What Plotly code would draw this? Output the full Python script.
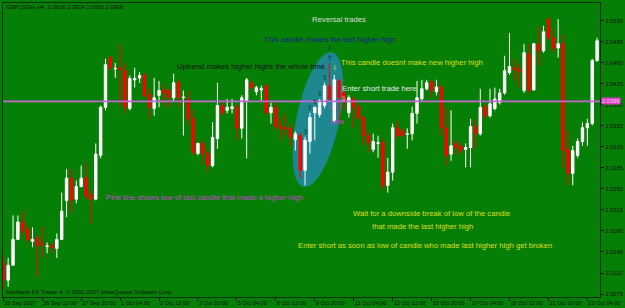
import math
import plotly.graph_objects as go

# ---------------- data ----------------
tick_bars = [0, 8, 16, 24, 32, 40, 48, 56, 64, 72, 80, 88, 96, 104, 112, 120]
tick_labels = ["25 Sep 2007", "26 Sep 12:00", "27 Sep 20:00", "1 Oct 04:00", "2 Oct 12:00",
               "3 Oct 20:00", "5 Oct 04:00", "8 Oct 12:00", "9 Oct 20:00", "11 Oct 04:00",
               "12 Oct 12:00", "15 Oct 20:00", "17 Oct 04:00", "18 Oct 12:00", "21 Oct 20:00",
               "23 Oct 04:00"]

price_ticks = [2.0075, 2.0110, 2.0145, 2.0180, 2.0215, 2.0250, 2.0285, 2.0320,
               2.0355, 2.0390, 2.0425, 2.0460, 2.0495, 2.0530]

opens = [
    2.0127, 2.0098, 2.0123, 2.0166, 2.0195, 2.0183, 2.0163, 2.0168, 2.0159, 2.0154,
    2.0156, 2.0151, 2.0166, 2.0231, 2.0268, 2.0233, 2.0254, 2.0269, 2.0241, 2.0233,
    2.0306, 2.0386, 2.0469, 2.0450, 2.0452, 2.0447, 2.0384, 2.0432, 2.0435, 2.0440,
    2.0407, 2.0384, 2.0406, 2.0415, 2.0414, 2.0402, 2.0427, 2.0402, 2.0400, 2.0367,
    2.0309, 2.0326, 2.0309, 2.0289, 2.0334, 2.0389, 2.0381, 2.0384, 2.0386, 2.0351,
    2.0397, 2.0427, 2.0412, 2.0415, 2.0422, 2.0377, 2.0386, 2.0354, 2.0352, 2.0351,
    2.0332, 2.0339, 2.0281, 2.0329, 2.0377, 2.0374, 2.0389, 2.0422, 2.0364, 2.0430,
    2.0410, 2.0377, 2.0400, 2.0386, 2.0369, 2.0339, 2.0316, 2.0326, 2.0327, 2.0256,
    2.0278, 2.0352, 2.0347, 2.0341, 2.0342, 2.0376, 2.0400, 2.0417, 2.0429, 2.0412,
    2.0420, 2.0352, 2.0308, 2.0326, 2.0321, 2.0316, 2.0319, 2.0354, 2.0342, 2.0387,
    2.0372, 2.0384, 2.0394, 2.0410, 2.0444, 2.0452, 2.0450, 2.0414, 2.0475, 2.0415,
    2.0492, 2.0480, 2.0533, 2.0502, 2.0485, 2.0492, 2.0316, 2.0276, 2.0306, 2.0329,
    2.0352, 2.0359, 2.0464]

highs = [
    2.0140, 2.0135, 2.0206, 2.0206, 2.0214, 2.0190, 2.0186, 2.0173, 2.0188, 2.0161,
    2.0161, 2.0176, 2.0244, 2.0283, 2.0283, 2.0264, 2.0289, 2.0294, 2.0248, 2.0326,
    2.0389, 2.0467, 2.0472, 2.0460, 2.0492, 2.0460, 2.0439, 2.0452, 2.0445, 2.0444,
    2.0419, 2.0435, 2.0430, 2.0425, 2.0417, 2.0442, 2.0432, 2.0414, 2.0414, 2.0381,
    2.0327, 2.0331, 2.0314, 2.0361, 2.0427, 2.0397, 2.0400, 2.0400, 2.0392, 2.0406,
    2.0435, 2.0430, 2.0422, 2.0422, 2.0425, 2.0394, 2.0394, 2.0369, 2.0376, 2.0359,
    2.0346, 2.0344, 2.0337, 2.0377, 2.0387, 2.0400, 2.0427, 2.0460, 2.0440, 2.0434,
    2.0417, 2.0406, 2.0404, 2.0391, 2.0372, 2.0344, 2.0342, 2.0339, 2.0334, 2.0302,
    2.0359, 2.0364, 2.0351, 2.0351, 2.0387, 2.0430, 2.0432, 2.0432, 2.0430, 2.0432,
    2.0424, 2.0386, 2.0381, 2.0331, 2.0327, 2.0326, 2.0367, 2.0366, 2.0417, 2.0391,
    2.0417, 2.0419, 2.0417, 2.0472, 2.0510, 2.0467, 2.0459, 2.0492, 2.0492, 2.0493,
    2.0522, 2.0522, 2.0535, 2.0517, 2.0533, 2.0508, 2.0347, 2.0322, 2.0334, 2.0361,
    2.0367, 2.0467, 2.0502]

lows = [
    2.0082, 2.0087, 2.0122, 2.0165, 2.0173, 2.0160, 2.0153, 2.0103, 2.0135, 2.0143,
    2.0143, 2.0135, 2.0165, 2.0203, 2.0211, 2.0226, 2.0253, 2.0231, 2.0193, 2.0231,
    2.0301, 2.0381, 2.0447, 2.0435, 2.0389, 2.0376, 2.0381, 2.0419, 2.0427, 2.0402,
    2.0367, 2.0372, 2.0386, 2.0389, 2.0386, 2.0397, 2.0386, 2.0339, 2.0356, 2.0306,
    2.0306, 2.0292, 2.0278, 2.0286, 2.0317, 2.0372, 2.0376, 2.0376, 2.0331, 2.0334,
    2.0301, 2.0415, 2.0406, 2.0397, 2.0374, 2.0359, 2.0347, 2.0331, 2.0339, 2.0322,
    2.0314, 2.0268, 2.0256, 2.0309, 2.0331, 2.0369, 2.0384, 2.0396, 2.0361, 2.0361,
    2.0381, 2.0369, 2.0352, 2.0364, 2.0322, 2.0311, 2.0311, 2.0302, 2.0248, 2.0244,
    2.0264, 2.0334, 2.0336, 2.0317, 2.0331, 2.0359, 2.0397, 2.0414, 2.0402, 2.0406,
    2.0339, 2.0289, 2.0297, 2.0306, 2.0309, 2.0286, 2.0286, 2.0317, 2.0339, 2.0367,
    2.0369, 2.0381, 2.0391, 2.0407, 2.0440, 2.0430, 2.0419, 2.0410, 2.0409, 2.0414,
    2.0455, 2.0477, 2.0497, 2.0477, 2.0469, 2.0286, 2.0256, 2.0256, 2.0302, 2.0322,
    2.0322, 2.0356, 2.0462]

closes = [
    2.0098, 2.0123, 2.0166, 2.0195, 2.0180, 2.0166, 2.0166, 2.0156, 2.0157, 2.0155,
    2.0153, 2.0166, 2.0213, 2.0268, 2.0231, 2.0254, 2.0268, 2.0239, 2.0233, 2.0308,
    2.0386, 2.0457, 2.0452, 2.0451, 2.0449, 2.0386, 2.0434, 2.0434, 2.0439, 2.0406,
    2.0386, 2.0402, 2.0414, 2.0410, 2.0402, 2.0427, 2.0402, 2.0403, 2.0367, 2.0311,
    2.0326, 2.0309, 2.0289, 2.0336, 2.0389, 2.0377, 2.0386, 2.0387, 2.0351, 2.0402,
    2.0432, 2.0419, 2.0419, 2.0417, 2.0377, 2.0386, 2.0354, 2.0351, 2.0350, 2.0336,
    2.0342, 2.0281, 2.0331, 2.0369, 2.0386, 2.0397, 2.0422, 2.0400, 2.0432, 2.0402,
    2.0395, 2.0402, 2.0386, 2.0369, 2.0339, 2.0327, 2.0329, 2.0327, 2.0256, 2.0278,
    2.0352, 2.0339, 2.0339, 2.0342, 2.0376, 2.0402, 2.0417, 2.0427, 2.0414, 2.0420,
    2.0352, 2.0306, 2.0322, 2.0319, 2.0314, 2.0319, 2.0354, 2.0342, 2.0386, 2.0372,
    2.0392, 2.0400, 2.0410, 2.0447, 2.0454, 2.0449, 2.0445, 2.0477, 2.0415, 2.0492,
    2.0480, 2.0512, 2.0502, 2.0484, 2.0492, 2.0314, 2.0276, 2.0314, 2.0329, 2.0352,
    2.0359, 2.0464, 2.0497]

pink_level = 2.0396
last_high_bar = 67
uptrend_bars = [62, 63, 64, 65, 66, 67]

# ---------------- styling ----------------
BG = "#067f06"
FONT = "Liberation Sans, Arial, sans-serif"
ARROWFONT = "DejaVu Sans, sans-serif"

W, H = 625, 308
L, R, T, B = 2, 22, 2, 11

fig = go.Figure()
fig.add_trace(go.Candlestick(
    x=list(range(len(opens))), open=opens, high=highs, low=lows, close=closes,
    increasing=dict(line=dict(color="#ffffff", width=1), fillcolor="#ffffff"),
    decreasing=dict(line=dict(color="#ff0000", width=1), fillcolor="#ff0000"),
    whiskerwidth=0, hoverinfo="skip", showlegend=False,
))

# ellipse geometry (pixel-like units mapped into data space)
x_px0, px_per_bar = 2.3, 4.9
y_top_px, y_bot_px = T, H - B
y_lo, y_hi = 2.0070, 2.05599


def to_data(px, py):
    x = (px - x_px0) / px_per_bar
    y = y_hi - (py - y_top_px) * (y_hi - y_lo) / (y_bot_px - y_top_px)
    return x, y


cx, cy, a, b, th = 319.0, 119.0, 69.0, 21.5, math.radians(12)
u = (math.sin(th), -math.cos(th))
v = (math.cos(th), math.sin(th))
pts = []
for k in range(73):
    t = 2 * math.pi * k / 72
    px = cx + a * math.cos(t) * u[0] + b * math.sin(t) * v[0]
    py = cy + a * math.cos(t) * u[1] + b * math.sin(t) * v[1]
    pts.append(to_data(px, py))
path = "M " + " L ".join(f"{x:.4f},{y:.6f}" for x, y in pts) + " Z"

shapes = [
    dict(type="path", path=path, xref="x", yref="y", fillcolor="#1d8890",
         line=dict(width=0), layer="below"),
    dict(type="line", xref="paper", x0=0, x1=1, yref="y", y0=pink_level, y1=pink_level,
         line=dict(color="#c266d6", width=1.6), layer="above"),
]


def px2paper(px, py):
    return (px - L) / (W - L - R), (H - B - py) / (H - T - B)


annos = []


def ptxt(px, py, s, color, size=7.7, xanchor="left"):
    x, y = px2paper(px, py)
    annos.append(dict(x=x, y=y, xref="paper", yref="paper", text=s, showarrow=False,
                      xanchor=xanchor, yanchor="middle",
                      font=dict(family=FONT, size=size, color=color)))


ptxt(3, 6.5, "GBPUSDm,H4  2.0918 2.0924 2.0905 2.0908", "#111111", 5.8)
ptxt(340, 19, "Reversal trades", "#dadada", 7.7, "center")
ptxt(331, 38.5, "This candle makes the last higher high", "#14208a", 7.7, "center")
ptxt(328, 66, "Uptrend makes higher highs the whole time", "#111111", 7.7, "right")
ptxt(340, 62, "This candle doesnt make new higher high", "#dede20", 7.7)
ptxt(341, 87.5, "Enter short trade here", "#e8e8e8", 7.7)
ptxt(329, 121, "Low", "#d040d0", 7.7)
ptxt(104, 197, "Pink line shows low of last candle that made a higher high", "#c244c8", 7.7)
ptxt(433, 213, "Wait for a downside break of low of the candle", "#dede20", 7.7, "center")
ptxt(424, 226.5, "that made the last higher high", "#dede20", 7.7, "center")
ptxt(297, 245, "Enter short as soon as low of candle who made last higher high get broken", "#dede20", 7.7)
ptxt(3, 292, "Interbank FX Trader 4, \u00a9 2001-2007 MetaQuotes Software Corp.", "#111111", 5.8)


def arrow(bar, price, glyph, color, yanchor, yshift):
    annos.append(dict(x=bar, y=price, xref="x", yref="y", text=glyph, showarrow=False,
                      xanchor="center", yanchor=yanchor, yshift=yshift,
                      font=dict(family=ARROWFONT, size=6.5, color=color)))


# arrows above the candles of the uptrend
for bi in uptrend_bars:
    arrow(bi, highs[bi], "\u21e7", "#0a1a1a", "bottom", -1)
arrow(last_high_bar, highs[last_high_bar], "\u21e9", "#14208a", "bottom", 9)
arrow(last_high_bar + 1, highs[last_high_bar + 1], "\u21e9", "#dede20", "bottom", 1)
arrow(last_high_bar + 3, pink_level, "\u21e9", "#f0f0f0", "middle", 2)
arrow(last_high_bar, lows[last_high_bar], "\u21e7", "#d040d0", "top", -1)

# price label of the pink line
annos.append(dict(x=1, y=pink_level, xref="paper", yref="y", text=f"{pink_level:.4f}",
                  showarrow=False, xanchor="left", yanchor="middle", xshift=1,
                  bgcolor="#e03cc8", borderpad=0,
                  font=dict(family=FONT, size=5.8, color="#f8d8f8")))

fig.update_layout(
    width=W, height=H, margin=dict(l=L, r=R, t=T, b=B),
    paper_bgcolor=BG, plot_bgcolor=BG,
    shapes=shapes, annotations=annos, showlegend=False,
    xaxis=dict(range=[-0.06, 122.6], tickmode="array", tickvals=tick_bars, ticktext=tick_labels,
               ticks="outside", ticklen=3, tickcolor="#111111", ticklabelposition="outside right",
               tickangle=0,
               tickfont=dict(family=FONT, size=5.6, color="#111111"),
               showgrid=False, zeroline=False, showline=True, mirror=True,
               linecolor="#0c2c0c", linewidth=1, rangeslider=dict(visible=False)),
    yaxis=dict(range=[y_lo, y_hi], side="right", tickmode="array", tickvals=price_ticks,
               ticktext=[f"{p:.4f}" for p in price_ticks],
               ticks="outside", ticklen=3, tickcolor="#111111",
               tickfont=dict(family=FONT, size=5.8, color="#111111"),
               showgrid=False, zeroline=False, showline=True, mirror=True,
               linecolor="#0c2c0c", linewidth=1),
)

fig.write_html("out.html")
